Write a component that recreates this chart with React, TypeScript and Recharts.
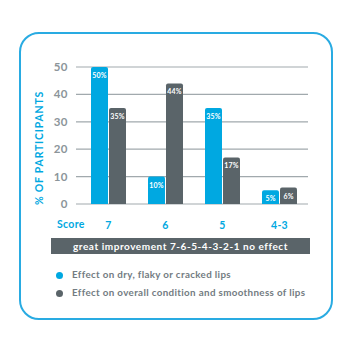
import { BarChart, Bar, XAxis, YAxis, CartesianGrid, LabelList } from "recharts";

const scores = ["7", "6", "5", "4-3"];
const dryLips = [50, 10, 35, 5];
const overallLips = [35, 44, 17, 6];
const yTicks = [0, 10, 20, 30, 40, 50];

const BLUE = "#00a8e1";
const GRAY = "#5a6469";
const FONT = "Lato, 'Open Sans', sans-serif";

const data = scores.map((s, i) => ({ score: s, dry: dryLips[i], overall: overallLips[i] }));

const ScoreTick = (props: any) => {
  const { x, payload } = props;
  return (
    <text x={x} y={229} textAnchor="middle" fill={BLUE} fontSize={10.5} fontWeight={700} fontFamily={FONT} letterSpacing={0.3}>
      {payload.value}
    </text>
  );
};

const pctLabel = (props: any) => {
  const { x, y, width, value } = props;
  return (
    <text x={x + width / 2} y={y + 11} textAnchor="middle" fill="#fff" fontSize={7} fontWeight={700} fontFamily={FONT} letterSpacing={0.2}>
      {value}%
    </text>
  );
};

export default function App() {
  return (
    <div style={{ position: "absolute", left: 0, top: 0, width: 350, height: 350, background: "#fff", fontFamily: FONT }}>
      <div
        style={{
          position: "absolute",
          left: 19,
          top: 32,
          width: 310,
          height: 284,
          border: "2px solid #29abe2",
          borderRadius: 20,
        }}
      />
      <div style={{ position: "absolute", left: 0, top: 0 }}>
        <BarChart width={350} height={240} data={data} margin={{ top: 67, right: 42, bottom: 6, left: 50 }} barSize={17} barGap={1}>
          <CartesianGrid vertical={false} stroke="#a1a9ad" strokeWidth={1.2} />
          <XAxis dataKey="score" axisLine={false} tickLine={false} height={30} padding={{ left: 4, right: 0 }} tick={<ScoreTick />} interval={0} />
          <YAxis
            domain={[0, 50]}
            ticks={yTicks}
            width={26}
            axisLine={false}
            tickLine={false}
            tick={{ fill: "#8c959a", fontSize: 11.5, fontWeight: 700, fontFamily: FONT, letterSpacing: 0.5 }}
            label={{
              content: () => (
                <text transform="translate(43,148) rotate(-90)" textAnchor="middle" fill={BLUE} fontSize={10.5} fontWeight={700} fontFamily={FONT} letterSpacing={0.8}>
                  % OF PARTICIPANTS
                </text>
              ),
            }}
          />
          <Bar dataKey="dry" fill={BLUE} radius={[2, 2, 0, 0]} isAnimationActive={false}>
            <LabelList dataKey="dry" content={pctLabel} />
          </Bar>
          <Bar dataKey="overall" fill={GRAY} radius={[2, 2, 0, 0]} isAnimationActive={false}>
            <LabelList dataKey="overall" content={pctLabel} />
          </Bar>
        </BarChart>
      </div>
      <div style={{ position: "absolute", left: 57, top: 218, color: BLUE, fontSize: 10.5, fontWeight: 700, letterSpacing: 0.3 }}>Score</div>
      <div
        style={{
          position: "absolute",
          left: 51,
          top: 238,
          width: 259,
          height: 16,
          background: GRAY,
          color: "#fff",
          fontSize: 10,
          fontWeight: 700,
          textAlign: "center",
          lineHeight: "16px",
          letterSpacing: 0.55,
        }}
      >
        great improvement 7-6-5-4-3-2-1 no effect
      </div>
      <div style={{ position: "absolute", left: 56, top: 272, width: 7, height: 7, borderRadius: 4, background: BLUE }} />
      <div style={{ position: "absolute", left: 72, top: 268, color: "#737c82", fontSize: 9.8, fontWeight: 700, letterSpacing: 0.35 }}>
        Effect on dry, flaky or cracked lips
      </div>
      <div style={{ position: "absolute", left: 56, top: 290, width: 7, height: 7, borderRadius: 4, background: GRAY }} />
      <div style={{ position: "absolute", left: 72, top: 286, color: "#737c82", fontSize: 9.8, fontWeight: 700, letterSpacing: 0.35 }}>
        Effect on overall condition and smoothness of lips
      </div>
    </div>
  );
}
